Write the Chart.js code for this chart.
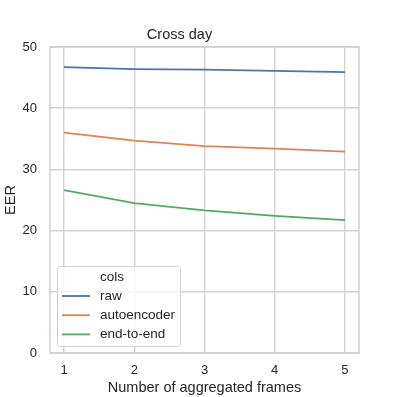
<!DOCTYPE html>
<html>
<head>
<meta charset="utf-8">
<script src="https://cdn.jsdelivr.net/npm/chart.js@4.4.1/dist/chart.umd.min.js"></script>
<style>
  html, body { margin: 0; padding: 0; background: #fff; }
  #wrap { width: 399px; height: 397px; }
</style>
</head>
<body>
<div id="wrap"><canvas id="eerChart" width="399" height="397"></canvas></div>
<script>
const frames = [1, 2, 3, 4, 5];
const yTicks = [0, 10, 20, 30, 40, 50];
const rawEer = [46.7, 46.4, 46.3, 46.1, 45.9];
const autoencoderEer = [36.0, 34.7, 33.8, 33.4, 32.9];
const endToEndEer = [26.6, 24.5, 23.3, 22.4, 21.7];
const seriesNames = ['raw', 'autoencoder', 'end-to-end'];

const textColor = '#262626';
const gridColor = '#d2d2d2';
const font = 'Liberation Sans, Arial, sans-serif';

function toPoints(values) {
  return frames.map((f, i) => ({ x: f, y: values[i] }));
}

// frame round the whole plot area (seaborn whitegrid style)
const frameBox = {
  id: 'frameBox',
  beforeDatasetsDraw(chart) {
    const { ctx, chartArea: a } = chart;
    ctx.save();
    ctx.strokeStyle = gridColor;
    ctx.lineWidth = 1.6;
    ctx.strokeRect(a.left, a.top, a.right - a.left, a.bottom - a.top);
    ctx.restore();
  }
};

// legend with title, drawn inside the plot at lower left
const boxLegend = {
  id: 'boxLegend',
  afterDraw(chart) {
    const { ctx } = chart;
    const x = 57, y = 266, w = 123, h = 80, r = 3;
    ctx.save();
    ctx.beginPath();
    ctx.roundRect(x + 0.5, y + 0.5, w, h, r);
    ctx.fillStyle = 'rgba(255,255,255,0.8)';
    ctx.fill();
    ctx.strokeStyle = gridColor;
    ctx.lineWidth = 1;
    ctx.stroke();

    ctx.fillStyle = textColor;
    ctx.font = '13.5px ' + font;
    ctx.textBaseline = 'middle';
    ctx.textAlign = 'left';
    ctx.fillText('cols', 100, 277);

    chart.data.datasets.forEach((ds, i) => {
      const ly = 296 + i * 19.2;
      ctx.beginPath();
      ctx.moveTo(62, ly);
      ctx.lineTo(90, ly);
      ctx.strokeStyle = ds.borderColor;
      ctx.lineWidth = ds.borderWidth;
      ctx.stroke();
      ctx.fillStyle = textColor;
      ctx.fillText(ds.label, 100, ly);
    });
    ctx.restore();
  }
};

new Chart(document.getElementById('eerChart').getContext('2d'), {
  type: 'line',
  data: {
    datasets: [
      { label: seriesNames[0], data: toPoints(rawEer), borderColor: '#4c72b0' },
      { label: seriesNames[1], data: toPoints(autoencoderEer), borderColor: '#dd8452' },
      { label: seriesNames[2], data: toPoints(endToEndEer), borderColor: '#55a868' }
    ].map(ds => ({ ...ds, borderWidth: 1.8, pointRadius: 0, tension: 0, fill: false }))
  },
  options: {
    responsive: false,
    animation: false,
    devicePixelRatio: 1,
    layout: { padding: { left: 0, right: 40, top: 0, bottom: 0 } },
    plugins: {
      legend: { display: false },
      tooltip: { enabled: false },
      title: {
        display: true,
        text: 'Cross day',
        color: textColor,
        font: { family: font, size: 14.5, weight: 'normal' },
        padding: { top: 26, bottom: 3.6 }
      }
    },
    scales: {
      x: {
        type: 'linear',
        min: 0.8,
        max: 5.2,
        afterBuildTicks: scale => { scale.ticks = frames.map(v => ({ value: v })); },
        afterFit: scale => { scale.height = 44; },
        grid: { color: gridColor, lineWidth: 1.4, drawTicks: false },
        border: { display: false },
        ticks: { color: textColor, padding: 10, font: { family: font, size: 13 } },
        title: {
          display: true,
          text: 'Number of aggregated frames',
          color: textColor,
          font: { family: font, size: 14.5 },
          padding: { top: 0, bottom: 0.5 }
        }
      },
      y: {
        min: 0,
        max: 50,
        afterBuildTicks: scale => { scale.ticks = yTicks.map(v => ({ value: v })); },
        afterFit: scale => { scale.width = 50; },
        grid: { color: gridColor, lineWidth: 1.4, drawTicks: false },
        border: { display: false },
        ticks: { color: textColor, padding: 13, font: { family: font, size: 13 } },
        title: {
          display: true,
          text: 'EER',
          color: textColor,
          font: { family: font, size: 14.5 },
          padding: { top: 2, bottom: 0 }
        }
      }
    }
  },
  plugins: [frameBox, boxLegend]
});
</script>
</body>
</html>
